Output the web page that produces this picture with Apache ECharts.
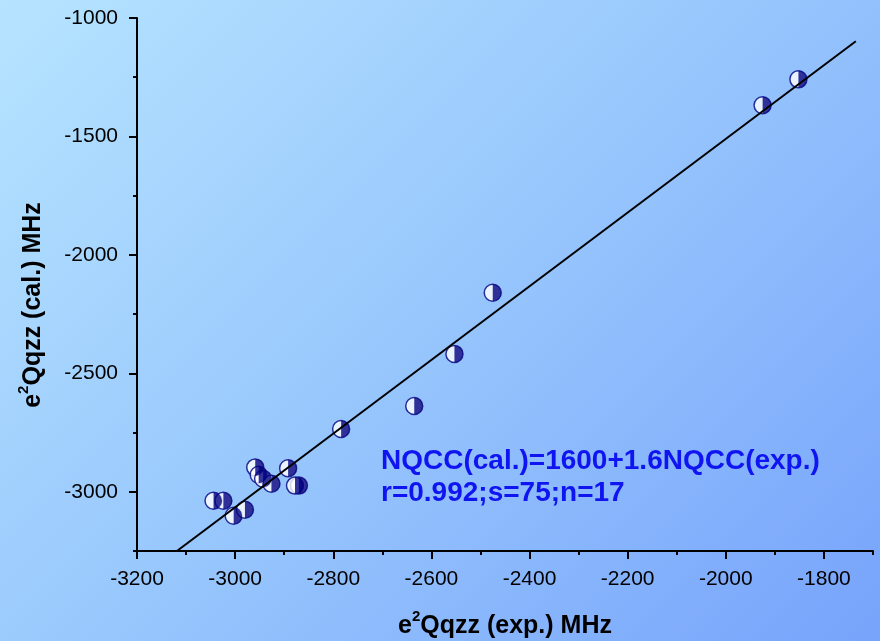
<!DOCTYPE html>
<html>
<head>
<meta charset="utf-8">
<script src="https://cdn.jsdelivr.net/npm/echarts@6/dist/echarts.min.js"></script>
<style>
html,body{margin:0;padding:0;}
#chart{width:880px;height:641px;background:linear-gradient(135deg,#b6e4ff 0%,#97c6fd 50%,#77a3fb 100%);}
</style>
</head>
<body>
<div id="chart"></div>
<script>
// 数据
var expX = [-1852, -1925, -2475, -2553, -2635, -2784, -2959, -2952, -2943, -2926, -2892, -2870, -2878, -3044, -3024, -3003, -2980];
var calY = [-1259, -1368, -2160, -2418, -2638, -2735, -2897, -2928, -2945, -2966, -2901, -2974, -2974, -3038, -3038, -3101, -3076];
// 拟合直线两端
var fitX = [-3120, -1735];
var fitY = [-3252, -1098];
// 刻度
var xTicks = [-3200, -3000, -2800, -2600, -2400, -2200, -2000, -1800];
var xMinor = [-3100, -2900, -2700, -2500, -2300, -2100, -1900, -1700];
var yTicks = [-3000, -2500, -2000, -1500, -1000];
var yMinor = [-3250, -2750, -2250, -1750, -1250];

var points = expX.map(function(v, i){ return [v, calY[i]]; });
var fitLine = fitX.map(function(v, i){ return [v, fitY[i]]; });

var navy = '#000080';
var font = 'Liberation Sans, Arial';
function plain(v){ return String(v); }

var myChart = echarts.init(document.getElementById('chart'));
var option = {
  backgroundColor: 'transparent',
  animation: false,
  grid: {left: 137, right: 7, top: 18, bottom: 90},
  xAxis: [
    {
      type: 'value', min: -3200, max: -1700,
      splitLine: {show: false},
      axisLine: {onZero: false, lineStyle: {color: '#000', width: 2}},
      axisTick: {customValues: xTicks, length: 8, lineStyle: {color: '#000', width: 2}},
      axisLabel: {customValues: xTicks, formatter: plain, color: '#000', fontSize: 21, fontFamily: font, margin: 18}
    },
    {
      type: 'value', min: -3200, max: -1700, position: 'bottom',
      splitLine: {show: false},
      axisLine: {show: false},
      axisTick: {customValues: xMinor, length: 4, lineStyle: {color: '#000', width: 2}},
      axisLabel: {show: false}
    }
  ],
  yAxis: [
    {
      type: 'value', min: -3250, max: -1000,
      splitLine: {show: false},
      axisLine: {onZero: false, lineStyle: {color: '#000', width: 2}},
      axisTick: {customValues: yTicks, length: 8, lineStyle: {color: '#000', width: 2}},
      axisLabel: {customValues: yTicks, formatter: plain, color: '#000', fontSize: 21, fontFamily: font, margin: 19}
    },
    {
      type: 'value', min: -3250, max: -1000, position: 'left',
      splitLine: {show: false},
      axisLine: {show: false},
      axisTick: {customValues: yMinor, length: 4, lineStyle: {color: '#000', width: 2}},
      axisLabel: {show: false}
    }
  ],
  series: [
    {
      type: 'scatter', data: points, symbol: 'circle', symbolSize: 17, z: 2,
      itemStyle: {color: '#fff', borderColor: navy, borderWidth: 1.5}
    },
    {
      type: 'scatter', data: points, z: 3,
      symbol: 'path://M0,0 A10,10 0 0 1 0,20 Z',
      symbolSize: [8.5, 17], symbolOffset: [4.25, 0],
      itemStyle: {color: navy}
    },
    {
      type: 'line', data: fitLine, symbol: 'none', z: 4,
      lineStyle: {color: '#000', width: 2}
    }
  ],
  graphic: [
    {
      type: 'text', x: 505, y: 639,
      style: {
        text: '{a|e}{s|2}{a|Qqzz (exp.) MHz}',
        textAlign: 'center', textVerticalAlign: 'bottom',
        rich: {
          a: {font: 'bold 25px ' + font, fill: '#000', lineHeight: 30, verticalAlign: 'bottom'},
          s: {font: 'bold 15px ' + font, fill: '#000', lineHeight: 30, verticalAlign: 'top'}
        }
      }
    },
    {
      type: 'text', x: 31, y: 305, rotation: Math.PI / 2,
      style: {
        text: '{a|e}{s|2}{a|Qqzz (cal.) MHz}',
        textAlign: 'center', textVerticalAlign: 'middle',
        rich: {
          a: {font: 'bold 25px ' + font, fill: '#000', lineHeight: 30, verticalAlign: 'bottom'},
          s: {font: 'bold 15px ' + font, fill: '#000', lineHeight: 30, verticalAlign: 'top'}
        }
      }
    },
    {
      type: 'text', x: 381, y: 445,
      style: {
        text: 'NQCC(cal.)=1600+1.6NQCC(exp.)\nr=0.992;s=75;n=17',
        font: 'bold 28px ' + font, fill: '#0f14f0', lineHeight: 32
      }
    }
  ]
};
myChart.setOption(option);
</script>
</body>
</html>
